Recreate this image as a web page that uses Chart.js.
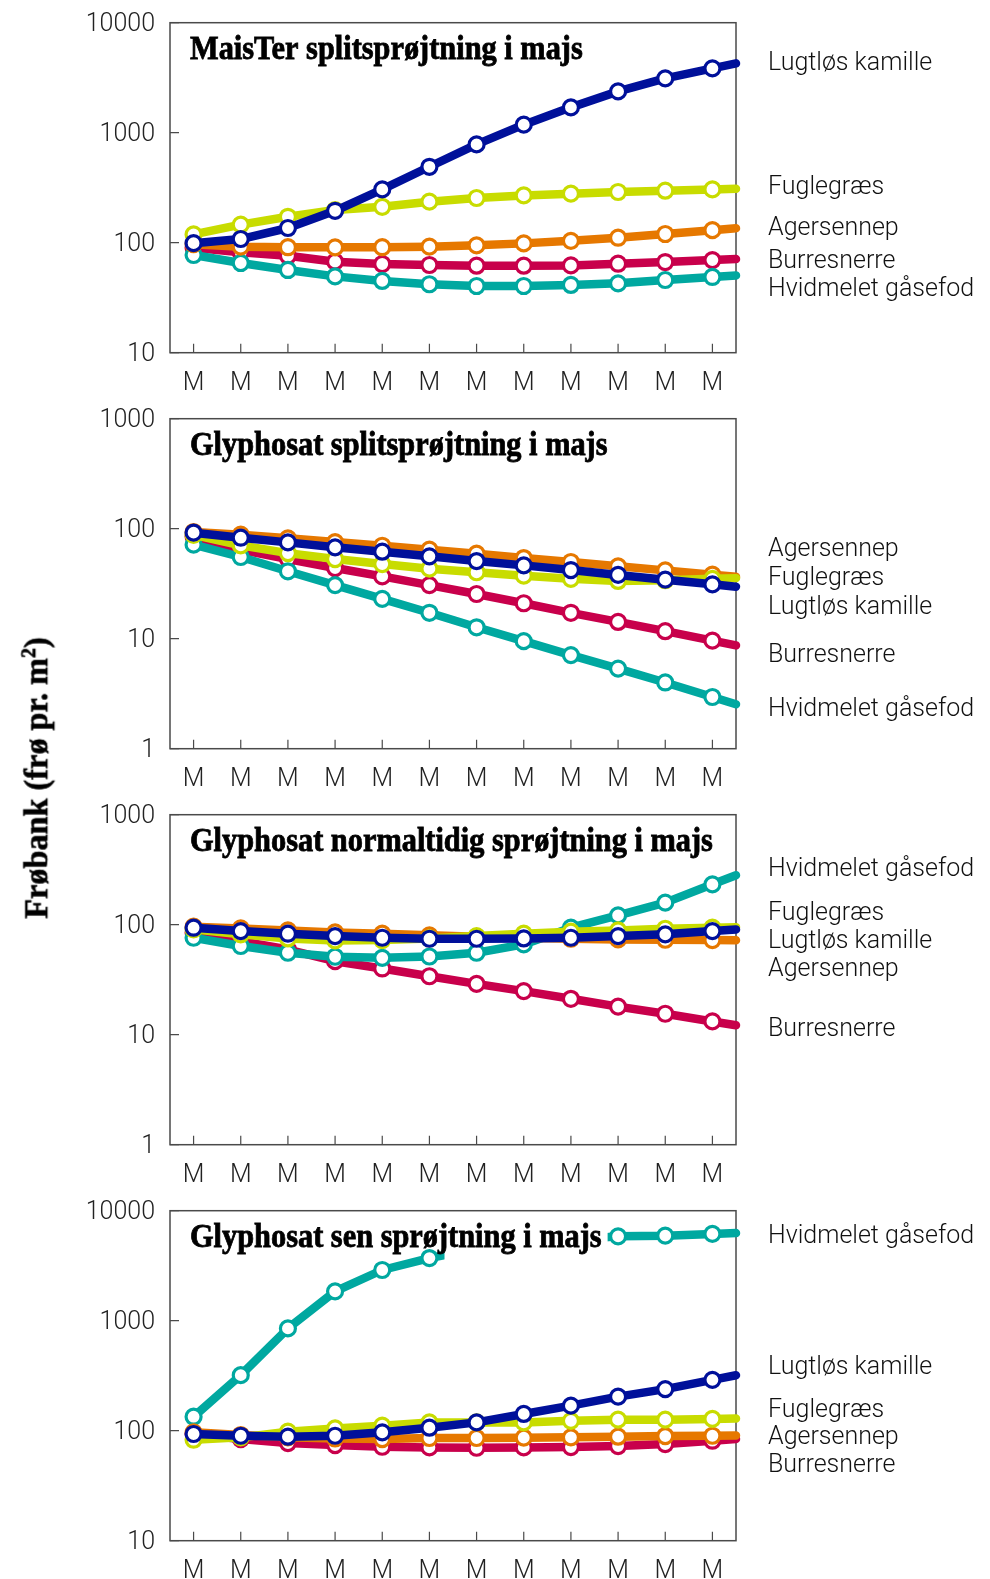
<!DOCTYPE html>
<html>
<head>
<meta charset="utf-8">
<script src="https://cdn.jsdelivr.net/npm/chart.js@4.4.1/dist/chart.umd.min.js"></script>
<style>
  html, body { margin: 0; padding: 0; background: #fff; }
  #page { position: relative; width: 990px; height: 1579px; overflow: hidden; }
  .panel { position: absolute; left: 0; width: 990px; height: 396px; }
  #ytitle {
    position: absolute; left: 36px; top: 778px;
    transform: translate(-50%, -50%) rotate(-90deg) scaleX(0.95);
    font: bold 34px 'Liberation Serif', serif; white-space: nowrap; color: #000;
    -webkit-text-stroke: 0.6px #000;
  }
  #ytitle sup { font-size: 21px; }
</style>
</head>
<body>
<div id="page">
  <div class="panel" style="top:0px"><canvas id="c1" width="990" height="396"></canvas></div>
  <div class="panel" style="top:396px"><canvas id="c2" width="990" height="396"></canvas></div>
  <div class="panel" style="top:792px"><canvas id="c3" width="990" height="396"></canvas></div>
  <div class="panel" style="top:1188px"><canvas id="c4" width="990" height="396"></canvas></div>
  <div id="ytitle">Frøbank (frø pr. m<sup>2</sup>)</div>
</div>
<script>
/* x categories and y ticks */
const periods = ['M', 'M', 'M', 'M', 'M', 'M', 'M', 'M', 'M', 'M', 'M', 'M'];
const ticksWide = [10, 100, 1000, 10000];
const ticksLow = [1, 10, 100, 1000];

/* series order = drawing order, first one ends up on top */
const species = ['Lugtløs kamille', 'Fuglegræs', 'Agersennep', 'Hvidmelet gåsefod', 'Burresnerre'];
const colors = ['#00109a', '#c8dc00', '#e67800', '#00a8a0', '#c8004b'];

/* MaisTer splitsprøjtning i majs */
const maisterKamille = [99, 108, 136, 195, 305, 490, 783, 1183, 1700, 2375, 3120, 3846];
const maisterFuglegraes = [119, 146, 172, 198, 212, 236, 255, 269, 279, 289, 297, 305];
const maisterAgersennep = [97, 92, 91, 90.7, 91, 92, 94.6, 98.6, 104, 111, 120, 130];
const maisterGaasefod = [77.3, 65.4, 56.5, 49.4, 44.9, 41.9, 40.4, 40.4, 41.3, 42.7, 45.8, 48.8];
const maisterBurresnerre = [90, 81.7, 76, 67.2, 64, 62.7, 61.8, 61.8, 62.2, 64.4, 66.7, 69.5];

/* Glyphosat splitsprøjtning i majs */
const splitKamille = [92, 82.8, 75.1, 67.7, 61.8, 56.1, 50.8, 46.4, 42.1, 38, 34.4, 31.2];
const splitFuglegraes = [88, 70.6, 60, 53, 47.7, 43.3, 40.2, 37.4, 35, 33.5, 34, 35];
const splitAgersennep = [93.3, 88.2, 81.7, 75.6, 70, 64.4, 59.3, 54.1, 49.8, 45.5, 41.8, 38.2];
const splitGaasefod = [71.6, 55.3, 41, 30.7, 23, 17.2, 12.7, 9.5, 7.1, 5.35, 4.0, 2.95];
const splitBurresnerre = [85, 64.4, 53, 43.9, 36.9, 30.7, 25.5, 21, 17.2, 14.2, 11.7, 9.6];

/* Glyphosat normaltidig sprøjtning i majs */
const normalKamille = [93.9, 87.5, 82.8, 78.8, 76.1, 74.5, 74.5, 75, 76.1, 78.8, 81.7, 87.5];
const normalFuglegraes = [90.7, 81.7, 75, 72, 72.5, 75, 78.8, 82.8, 86.5, 88.8, 91.9, 93.9];
const normalAgersennep = [95.9, 92.6, 88.8, 85.1, 82.8, 80, 77.7, 76.1, 74.5, 73.5, 73, 72.5];
const normalGaasefod = [76.1, 64, 55.6, 51.1, 50, 51.4, 55.6, 66.2, 93.9, 121.6, 158.7, 232.8];
const normalBurresnerre = [84.6, 71, 59.5, 46.6, 40, 34, 29, 24.9, 21.2, 18, 15.5, 13.2];

/* Glyphosat sen sprøjtning i majs */
const senKamille = [93.3, 90, 88.2, 90, 96.6, 106.5, 119, 142, 169, 204, 239, 290];
const senFuglegraes = [82.8, 87, 98, 105, 111, 119, 119, 119, 123, 126, 126, 128];
const senAgersennep = [96.6, 91.3, 87, 85, 84, 85.8, 85.8, 86.4, 87, 88.2, 89.4, 90];
const senGaasefod = [134, 320, 851, 1848, 2890, 3711, 4500, 5000, 5400, 5850, 5930, 6150];
const senBurresnerre = [93.3, 84, 77.2, 74, 71.5, 70.5, 70, 70.5, 71, 72.5, 75.6, 81.1];

const labelFont = '300 25px Roboto, "Liberation Sans", sans-serif';

// frame, inward ticks, title and the names at the right
const panelDecor = {
  id: 'panelDecor',
  beforeDatasetsDraw(chart) {
    const { ctx, chartArea: a, scales: { x, y } } = chart;
    ctx.save();
    ctx.strokeStyle = '#4a4a4a';
    ctx.lineWidth = 1.5;
    ctx.strokeRect(a.left, a.top, a.right - a.left, a.bottom - a.top);
    ctx.lineWidth = 1.2;
    ctx.beginPath();
    x.ticks.forEach(t => {
      const px = x.getPixelForValue(t.value);
      ctx.moveTo(px, a.bottom);
      ctx.lineTo(px, a.bottom - 9);
    });
    y.ticks.forEach(t => {
      const py = y.getPixelForValue(t.value);
      ctx.moveTo(a.left, py);
      ctx.lineTo(a.left + 9, py);
    });
    ctx.stroke();
    ctx.restore();
  },
  afterDatasetsDraw(chart, args, opts) {
    const { ctx, chartArea: a, scales: { x } } = chart;
    const squeeze = 0.92;
    const tx = a.left + 20, ty = a.top + 36.6;
    ctx.save();
    ctx.font = 'bold 33px "Liberation Serif", serif';
    ctx.textBaseline = 'alphabetic';
    const w = ctx.measureText(opts.title).width * squeeze;
    if (opts.maskFrom != null) {
      const mx = x.getPixelForValue(opts.maskFrom);
      ctx.fillStyle = '#fff';
      ctx.fillRect(mx, a.top + 4, tx + w + 6 - mx, ty + 16 - (a.top + 4));
    }
    ctx.translate(tx, ty);
    ctx.scale(squeeze, 1);
    ctx.fillStyle = '#000';
    ctx.strokeStyle = '#000';
    ctx.lineWidth = 0.8;
    ctx.fillText(opts.title, 0, 0);
    ctx.strokeText(opts.title, 0, 0);
    ctx.restore();

    ctx.save();
    ctx.font = labelFont;
    ctx.fillStyle = '#111';
    ctx.textBaseline = 'middle';
    opts.names.forEach((n, i) => ctx.fillText(n, 768, opts.nameY[i] + 2));
    ctx.restore();
  }
};

function buildSeries(values, i) {
  const pts = values.map((v, k) => ({ x: k, y: v }));
  // carry the last segment on to the right frame edge
  const n = values.length;
  pts.push({ x: n - 0.5, y: values[n - 1] * Math.sqrt(values[n - 1] / values[n - 2]) });
  return {
    label: species[i],
    data: pts,
    borderColor: colors[i],
    borderWidth: 8.5,
    borderCapStyle: 'round',
    borderJoinStyle: 'round',
    tension: 0,
    clip: false,
    pointRadius: c => (c.index < n ? 7.5 : 0),
    pointHoverRadius: 0,
    pointBorderWidth: 3.2,
    pointBackgroundColor: '#fff',
    pointBorderColor: colors[i],
  };
}

function drawPanel(id, title, series, yTicks, names, nameY, maskFrom) {
  const ctx = document.getElementById(id).getContext('2d');
  return new Chart(ctx, {
    type: 'line',
    data: { datasets: series.map(buildSeries) },
    options: {
      responsive: false,
      animation: false,
      devicePixelRatio: 1,
      layout: { padding: { top: 22.7, right: 254, left: 0, bottom: 0 } },
      plugins: {
        legend: { display: false },
        tooltip: { enabled: false },
        panelDecor: { title: title, names: names, nameY: nameY, maskFrom: maskFrom },
      },
      scales: {
        x: {
          type: 'linear',
          min: -0.5,
          max: periods.length - 0.5,
          afterBuildTicks: s => { s.ticks = periods.map((p, k) => ({ value: k })); },
          afterFit: s => { s.height = 43.3; s.paddingLeft = 0; s.paddingRight = 0; },
          grid: { display: false, drawTicks: false },
          border: { display: false },
          ticks: {
            padding: 16,
            color: '#222',
            font: { family: 'Roboto, "Liberation Sans", sans-serif', size: 25, weight: 300 },
            callback: v => periods[v],
          },
        },
        y: {
          type: 'logarithmic',
          min: yTicks[0],
          max: yTicks[yTicks.length - 1],
          afterBuildTicks: s => { s.ticks = yTicks.map(v => ({ value: v })); },
          afterFit: s => { s.width = 170; s.paddingTop = 0; s.paddingBottom = 0; },
          grid: { display: false, drawTicks: false },
          border: { display: false },
          ticks: {
            padding: 15,
            labelOffset: 2,
            color: '#222',
            font: { family: 'Roboto, "Liberation Sans", sans-serif', size: 25, weight: 300 },
            callback: v => String(v),
          },
        },
      },
    },
    plugins: [panelDecor],
  });
}

drawPanel('c1', 'MaisTer splitsprøjtning i majs',
  [maisterKamille, maisterFuglegraes, maisterAgersennep, maisterGaasefod, maisterBurresnerre],
  ticksWide,
  ['Lugtløs kamille', 'Fuglegræs', 'Agersennep', 'Burresnerre', 'Hvidmelet gåsefod'],
  [61.4, 185.3, 226.6, 259.8, 288.0]);

drawPanel('c2', 'Glyphosat splitsprøjtning i majs',
  [splitKamille, splitFuglegraes, splitAgersennep, splitGaasefod, splitBurresnerre],
  ticksLow,
  ['Agersennep', 'Fuglegræs', 'Lugtløs kamille', 'Burresnerre', 'Hvidmelet gåsefod'],
  [151.9, 181.1, 209.3, 257.6, 312.0]);

drawPanel('c3', 'Glyphosat normaltidig sprøjtning i majs',
  [normalKamille, normalFuglegraes, normalAgersennep, normalGaasefod, normalBurresnerre],
  ticksLow,
  ['Hvidmelet gåsefod', 'Fuglegræs', 'Lugtløs kamille', 'Agersennep', 'Burresnerre'],
  [76.1, 119.4, 147.6, 175.8, 236.2]);

drawPanel('c4', 'Glyphosat sen sprøjtning i majs',
  [senKamille, senFuglegraes, senAgersennep, senGaasefod, senBurresnerre],
  ticksWide,
  ['Hvidmelet gåsefod', 'Lugtløs kamille', 'Fuglegræs', 'Agersennep', 'Burresnerre'],
  [46.7, 177.6, 221.0, 248.1, 275.3],
  5.32);
</script>
</body>
</html>
